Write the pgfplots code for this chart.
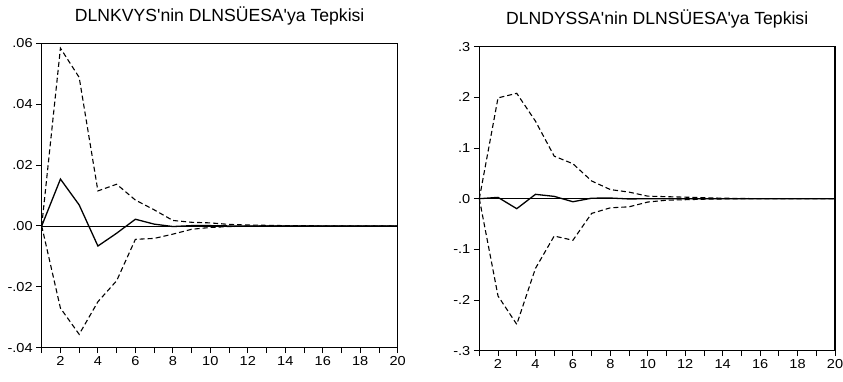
\documentclass[border=0pt]{standalone}
\usepackage{pgfplots}
\pgfplotsset{compat=1.18}
\usepackage{fontspec}
\setmainfont{Liberation Sans}
\newfontfamily\tickfont{Liberation Sans}[FakeStretch=1.12]
\begin{document}
\begin{tikzpicture}[x=1pt,y=1pt]
\useasboundingbox (0,0) rectangle (843,382);
\pgfplotsset{
  irf/.style={
    scale only axis,
    anchor=south west,
    xmin=1, xmax=20,
    xtick={1,...,20},
    xticklabels={{},2,{},4,{},6,{},8,{},10,{},12,{},14,{},16,{},18,{},20},
    tick align=outside,
    xtick pos=bottom, ytick pos=left,
    major tick length=5.5pt,
    scaled y ticks=false,
    tick style={black, line width=0.9pt},
    axis line style={line width=1.3pt},
    every tick label/.append style={font=\tickfont\fontsize{13}{13}\selectfont},
    title style={font=\fontsize{17.6}{18}\selectfont, yshift=9pt},
    /pgf/number format/assume math mode=true,
    clip=false,
  },
  band/.style={black, line width=1.1pt, dash pattern=on 5pt off 3pt},
  resp/.style={black, line width=1.3pt},
  zline/.style={black, line width=0.8pt},
}
\begin{axis}[irf,
  at={(41.7pt,34.3pt)}, width=356pt, height=304.4pt,
  ymin=-0.04, ymax=0.06,
  ytick={-0.04,-0.02,0,0.02,0.04,0.06},
  yticklabels={-.04,-.02,.00,.02,.04,.06},
  title={DLNKVYS\textquotesingle nin DLNSÜESA\textquotesingle ya Tepkisi}]
\addplot[zline] coordinates {(1,0) (20,0)};
\addplot[resp] coordinates {(1,0) (2,0.0154) (3,0.0069) (4,-0.0066) (5,-0.0024) (6,0.0022) (7,0.0006) (8,-0.0002) (9,0.0001) (10,0.0001) (11,0) (12,0) (13,0) (14,0) (15,0) (16,0) (17,0) (18,0) (19,0) (20,0)};
\addplot[band] coordinates {(1,0) (2,0.0584) (3,0.0488) (4,0.0115) (5,0.0137) (6,0.0085) (7,0.0053) (8,0.0018) (9,0.0012) (10,0.0010) (11,0.0005) (12,0.0003) (13,0.0002) (14,0.0001) (15,0.0001) (16,0) (17,0) (18,0) (19,0) (20,0)};
\addplot[band] coordinates {(1,0) (2,-0.027) (3,-0.0356) (4,-0.0249) (5,-0.018) (6,-0.0044) (7,-0.0041) (8,-0.0027) (9,-0.0011) (10,-0.0005) (11,-0.0002) (12,-0.0001) (13,0) (14,0) (15,0) (16,0) (17,0) (18,0) (19,0) (20,0)};
\end{axis}
\begin{axis}[irf,
  at={(479.3pt,31.3pt)}, width=355.7pt, height=304pt,
  ymin=-0.3, ymax=0.3,
  ytick={-0.3,-0.2,-0.1,0,0.1,0.2,0.3},
  yticklabels={-.3,-.2,-.1,.0,.1,.2,.3},
  title={DLNDYSSA\textquotesingle nin DLNSÜESA\textquotesingle ya Tepkisi}]
\addplot[zline] coordinates {(1,0) (20,0)};
\addplot[resp] coordinates {(1,0) (2,0.0026) (3,-0.0197) (4,0.0086) (5,0.0046) (6,-0.006) (7,0.001) (8,0.0013) (9,-0.0005) (10,0) (11,0) (12,0) (13,0) (14,0) (15,0) (16,0) (17,0) (18,0) (19,0) (20,0)};
\addplot[band] coordinates {(1,0) (2,0.199) (3,0.208) (4,0.153) (5,0.084) (6,0.069) (7,0.035) (8,0.018) (9,0.013) (10,0.005) (11,0.004) (12,0.003) (13,0.002) (14,0.001) (15,0.0005) (16,0) (17,0) (18,0) (19,0) (20,0)};
\addplot[band] coordinates {(1,0) (2,-0.192) (3,-0.248) (4,-0.1375) (5,-0.0737) (6,-0.082) (7,-0.029) (8,-0.018) (9,-0.016) (10,-0.0066) (11,-0.003) (12,-0.002) (13,-0.001) (14,-0.0005) (15,0) (16,0) (17,0) (18,0) (19,0) (20,0)};
\end{axis}
\end{tikzpicture}
\end{document}
